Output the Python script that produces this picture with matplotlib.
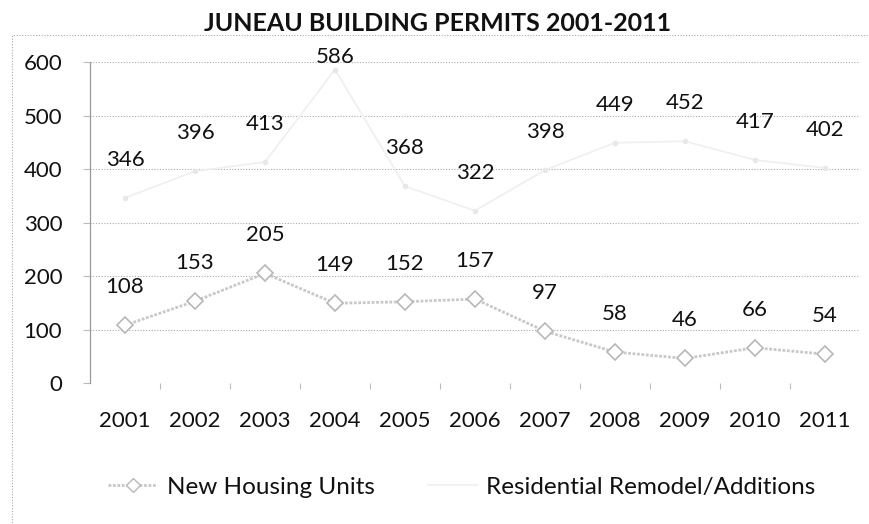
import matplotlib
matplotlib.use("Agg")
import matplotlib.pyplot as plt
from matplotlib.lines import Line2D
from matplotlib.patches import Rectangle

plt.rcParams["font.family"] = ["Lato", "DejaVu Sans"]

years = ["2001", "2002", "2003", "2004", "2005", "2006",
         "2007", "2008", "2009", "2010", "2011"]
new_housing = [108, 153, 205, 149, 152, 157, 97, 58, 46, 66, 54]
remodel = [346, 396, 413, 586, 368, 322, 398, 449, 452, 417, 402]
y_ticks = [0, 100, 200, 300, 400, 500, 600]

fig = plt.figure(figsize=(8.7, 5.24), dpi=100)
ax = fig.add_axes([0.1034, 0.269, 0.885, 0.6126])

x = list(range(len(years)))

# residential line is barely visible in the scan
ax.plot(x, remodel, color="#efefef", lw=1.2, marker="o", ms=3,
        mfc="#e8e8e8", mec="#e8e8e8", zorder=2)
ax.plot(x, new_housing, color="#c8c8c8", lw=2, ls=(0, (1, 0.6)),
        marker="D", ms=8, mfc="white", mec="#b8b8b8", mew=1.2, zorder=3)

# Excel keeps the labels inside the plot area, so cap them near the top
for i, v in enumerate(remodel):
    ax.text(i, min(v + 71, 610), str(v), ha="center", va="center",
            fontsize=16, color="#111111", clip_on=False)
for i, v in enumerate(new_housing):
    ax.text(i, v + 71, str(v), ha="center", va="center",
            fontsize=16, color="#111111", clip_on=False)

ax.set_xlim(-0.5, len(years) - 0.5)
ax.set_ylim(0, 600)
ax.set_yticks(y_ticks)
ax.set_xticks(x)
ax.set_xticklabels(years)
ax.set_xticks([i + 0.5 for i in x[:-1]], minor=True)
ax.tick_params(axis="both", labelsize=16, labelcolor="#111111",
               color="#bbbbbb", length=0)
ax.tick_params(axis="x", which="minor", length=4, width=0.8, color="#bbbbbb")
ax.tick_params(axis="x", pad=20)
ax.tick_params(axis="y", length=5, width=0.8, pad=15)

for t in y_ticks:
    ax.axhline(t, color="#aaaaaa", lw=0.8, ls=(0, (1, 1.5)), zorder=1)
for s in ["top", "right", "bottom"]:
    ax.spines[s].set_visible(False)
ax.spines["left"].set_color("#999999")
ax.spines["left"].set_linestyle((0, (1, 1)))
ax.spines["left"].set_linewidth(0.9)

fig.text(0.503, 0.955, "JUNEAU BUILDING PERMITS 2001-2011", ha="center",
         va="center", fontsize=18, fontweight="bold", color="#111111")

# dotted outer chart frame (scanned look)
frame = Rectangle((0.014, -0.05), 1.1, 0.983, transform=fig.transFigure,
                  fill=False, ec="#aaaaaa", lw=0.8, ls=(0, (1, 1.5)))
fig.add_artist(frame)

handles = [
    Line2D([], [], color="#c8c8c8", lw=2, ls=(0, (1, 0.6)), marker="D",
           ms=7, mfc="white", mec="#b8b8b8"),
    Line2D([], [], color="#efefef", lw=1.2),
]
fig.legend(handles, ["New Housing Units", "Residential Remodel/Additions"],
           loc="center", bbox_to_anchor=(0.531, 0.07), ncol=2, frameon=False,
           fontsize=17.5, handlelength=2.0, handletextpad=0.4,
           columnspacing=2.2, labelcolor="#111111")

fig.savefig("out.png", dpi=100)
